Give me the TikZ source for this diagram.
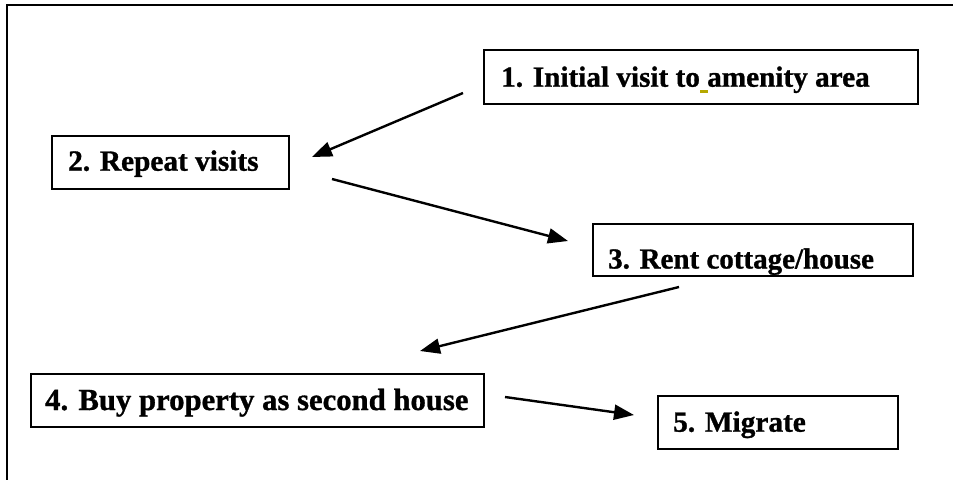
\documentclass[tikz,border=0pt]{standalone}
\usepackage{fontspec}
\setmainfont{Liberation Serif}[BoldFeatures={FakeBold=1}]
\usetikzlibrary{arrows.meta}
\definecolor{gramm}{RGB}{181,168,0}
\tikzset{
  box/.style={draw=black, line width=1.8pt, inner sep=0pt, anchor=north west},
  lbl/.style={inner sep=0pt, anchor=base west, font=\bfseries},
  flow/.style={line width=2.4pt, -{Triangle[length=20pt,width=15pt]}},
  frame/.style={line width=2.4pt}
}
\begin{document}
\begin{tikzpicture}[x=1pt,y=-1pt]
\useasboundingbox (0,0) rectangle (953,480);
% outer frame (cut off at right and bottom)
\draw[frame] (953,5) -- (7,5) -- (7,480);
% boxes
\node[box, minimum width=434pt, minimum height=54pt] (b1) at (483,49) {};
\node[box, minimum width=237pt, minimum height=53pt] (b2) at (51,135) {};
\node[box, minimum width=320pt, minimum height=52pt] (b3) at (592,223) {};
\node[box, minimum width=453pt, minimum height=53pt] (b4) at (30,373) {};
\node[box, minimum width=240pt, minimum height=53pt] (b5) at (657,395) {};
% texts
\node[lbl, font=\bfseries\fontsize{29.2pt}{30pt}\selectfont] (t1) at (501,86.7) {1. Initial visit to amenity area};
\node[lbl, font=\bfseries\fontsize{29.3pt}{30pt}\selectfont] (t2) at (68,170.7) {2. Repeat visits};
\node[lbl, font=\bfseries\fontsize{29pt}{30pt}\selectfont] (t3) at (608,268.5) {3. Rent cottage/house};
\node[lbl, font=\bfseries\fontsize{30.7pt}{31pt}\selectfont] (t4) at (45,410) {4. Buy property as second house};
\node[lbl, font=\bfseries\fontsize{29.3pt}{30pt}\selectfont] (t5) at (673,431.7) {5. Migrate};
% grammar mark
\fill[gramm] (700,90) rectangle (707.7,92.7);
% connector end points
\coordinate (a1s) at (463,93);
\coordinate (a1e) at (312,157);
\coordinate (a2s) at (332,179);
\coordinate (a2e) at (568,241);
\coordinate (a3s) at (679,287);
\coordinate (a3e) at (420,351);
\coordinate (a4s) at (505,397);
\coordinate (a4e) at (634,415);
\draw[flow] (a1s) -- (a1e);
\draw[flow] (a2s) -- (a2e);
\draw[flow] (a3s) -- (a3e);
\draw[flow] (a4s) -- (a4e);
\end{tikzpicture}
\end{document}
